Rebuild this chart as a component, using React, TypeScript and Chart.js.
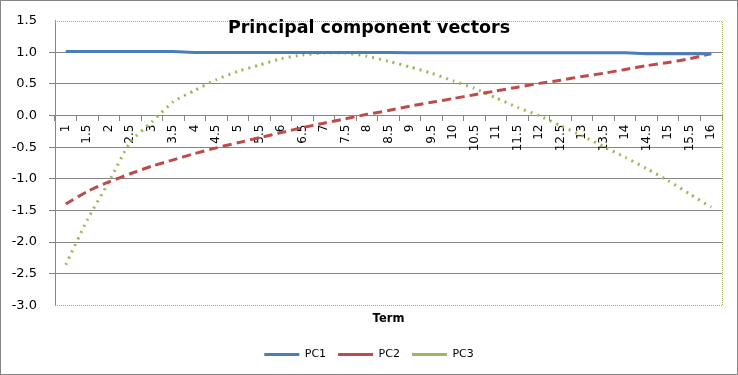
import React, { useEffect, useRef } from 'react';
import { Chart, registerables } from 'chart.js';

Chart.register(...registerables);

const terms = ['1', '1.5', '2', '2.5', '3', '3.5', '4', '4.5', '5', '5.5', '6', '6.5', '7', '7.5', '8', '8.5', '9', '9.5', '10', '10.5', '11', '11.5', '12', '12.5', '13', '13.5', '14', '14.5', '15', '15.5', '16'];

const pc1 = [1.015, 1.015, 1.015, 1.015, 1.015, 1.015, 1.0, 1.0, 1.0, 1.0, 1.0, 1.0, 1.0, 1.0, 1.0, 1.0, 0.995, 0.995, 0.995, 0.995, 0.995, 0.995, 0.995, 0.995, 0.995, 0.995, 0.995, 0.98, 0.98, 0.98, 0.98];

const pc2 = [-1.4, -1.2, -1.05, -0.92, -0.8, -0.7, -0.6, -0.51, -0.43, -0.35, -0.27, -0.19, -0.12, -0.05, 0.02, 0.08, 0.15, 0.21, 0.27, 0.33, 0.39, 0.45, 0.51, 0.56, 0.62, 0.67, 0.73, 0.79, 0.84, 0.9, 0.98];

const pc3 = [-2.36, -1.65, -1.05, -0.42, -0.1, 0.22, 0.4, 0.57, 0.7, 0.8, 0.9, 0.96, 0.99, 0.99, 0.94, 0.86, 0.77, 0.67, 0.55, 0.43, 0.28, 0.13, 0.0, -0.16, -0.32, -0.49, -0.66, -0.84, -1.03, -1.24, -1.45];

const yTickValues = [-3.0, -2.5, -2.0, -1.5, -1.0, -0.5, 0.0, 0.5, 1.0, 1.5];
const yTickLabels = ['-3.0', '-2.5', '-2.0', '-1.5', '-1.0', '-0.5', '0.0', '0.5', '1.0', '1.5'];

const titleText = 'Principal component vectors';
const xTitle = 'Term';

const FONT = '"DejaVu Sans", sans-serif';
const GRID = '#868686';

const yMin = yTickValues[0];
const yMax = yTickValues[yTickValues.length - 1];

const overlayPlugin = {
  id: 'overlay',
  beforeDatasetsDraw(chart: any) {
    const { ctx, chartArea } = chart;
    const { left, right, top, bottom } = chartArea;
    ctx.save();
    ctx.strokeStyle = '#9bbb59';
    ctx.lineWidth = 1;
    ctx.setLineDash([1, 1]);
    ctx.beginPath();
    ctx.moveTo(left, Math.round(top) + 0.5);
    ctx.lineTo(Math.round(right) + 0.5, Math.round(top) + 0.5);
    ctx.lineTo(Math.round(right) + 0.5, Math.round(bottom) + 0.5);
    ctx.lineTo(left, Math.round(bottom) + 0.5);
    ctx.stroke();
    ctx.restore();
  },
  afterDraw(chart: any) {
    const { ctx } = chart;
    ctx.save();
    ctx.font = `bold 17.5px ${FONT}`;
    ctx.fillStyle = '#000';
    ctx.textAlign = 'center';
    ctx.textBaseline = 'alphabetic';
    ctx.fillText(titleText, chart.width / 2, 32);
    ctx.restore();
  },
};

const yLabel = (v: number) => {
  let best = 0;
  for (let i = 0; i < yTickValues.length; i++) {
    if (Math.abs(yTickValues[i] - v) < Math.abs(yTickValues[best] - v)) best = i;
  }
  return yTickLabels[best];
};

export default function App() {
  const ref = useRef<HTMLCanvasElement>(null);
  useEffect(() => {
    document.body.style.margin = '0';
    const chart = new Chart(ref.current as HTMLCanvasElement, {
      type: 'line',
      data: {
        labels: terms,
        datasets: [
          {
            label: 'PC1',
            data: pc1,
            borderColor: '#4a7ebb',
            backgroundColor: '#4a7ebb',
            borderWidth: 3,
            pointRadius: 0,
            tension: 0,
          },
          {
            label: 'PC2',
            data: pc2,
            borderColor: '#be4b48',
            backgroundColor: '#be4b48',
            borderWidth: 3,
            borderDash: [9, 5],
            pointRadius: 0,
            tension: 0.2,
          },
          {
            label: 'PC3',
            data: pc3,
            borderColor: '#98b954',
            backgroundColor: '#98b954',
            borderWidth: 3,
            borderDash: [2, 5],
            pointRadius: 0,
            tension: 0.2,
          },
        ],
      },
      options: {
        responsive: false,
        animation: false,
        devicePixelRatio: 1,
        layout: { padding: { top: 17, right: 0, left: 0, bottom: 4 } },
        plugins: {
          title: { display: false },
          tooltip: { enabled: false },
          legend: {
            display: true,
            position: 'bottom',
            labels: {
              usePointStyle: true,
              pointStyle: 'line',
              pointStyleWidth: 35,
              padding: 12,
              color: '#000',
              font: { family: FONT, size: 11 },
            },
          },
        },
        scales: {
          x: {
            type: 'category',
            position: { y: 0 } as any,
            offset: true,
            grid: {
              display: true,
              drawOnChartArea: false,
              drawTicks: true,
              tickLength: 5,
              color: GRID,
              offset: true,
            },
            border: { display: true, color: GRID, width: 1 },
            ticks: {
              autoSkip: false,
              maxRotation: 90,
              minRotation: 90,
              padding: 4,
              color: '#000',
              font: { family: FONT, size: 12 },
            },
          },
          x2: {
            type: 'category',
            position: 'bottom',
            grid: { display: false, drawTicks: false },
            border: { display: false },
            ticks: { display: false },
            title: {
              display: true,
              text: xTitle,
              color: '#000',
              font: { family: FONT, size: 11.5, weight: 'bold' },
              padding: { top: 7, bottom: 11 },
            },
          },
          y: {
            type: 'linear',
            min: yMin,
            max: yMax,
            afterFit(scale: any) {
              scale.width = 54;
            },
            afterBuildTicks(scale: any) {
              scale.ticks = yTickValues.map((v) => ({ value: v }));
            },
            grid: {
              color: (c: any) =>
                c.tick && (c.tick.value === yMax || c.tick.value === yMin) ? 'rgba(0,0,0,0)' : GRID,
              tickLength: 6,
              drawTicks: true,
            },
            border: { display: true, color: GRID },
            ticks: {
              padding: 12,
              color: '#000',
              font: { family: FONT, size: 13 },
              callback: (v: any) => yLabel(Number(v)),
            },
          },
          yr: {
            type: 'linear',
            position: 'right',
            display: true,
            afterFit(scale: any) {
              scale.width = 15;
            },
            grid: { display: false, drawTicks: false },
            border: { display: false },
            ticks: { display: false },
          },
        },
      },
      plugins: [overlayPlugin],
    });
    return () => chart.destroy();
  }, []);
  return (
    <div
      style={{
        width: 738,
        height: 375,
        boxSizing: 'border-box',
        border: '1px solid #868686',
        background: '#fff',
      }}
    >
      <canvas ref={ref} width={736} height={373} style={{ display: 'block' }} />
    </div>
  );
}
